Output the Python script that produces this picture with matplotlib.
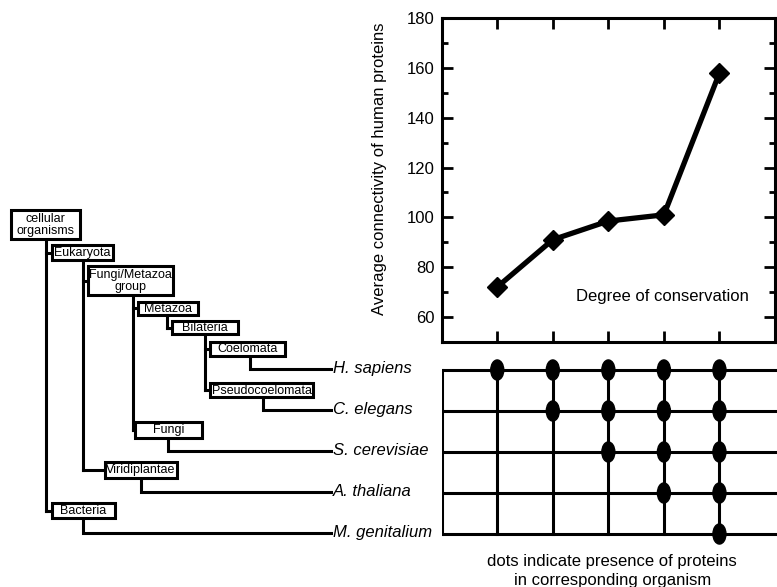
import matplotlib
matplotlib.use("Agg")
import matplotlib.pyplot as plt
from matplotlib.patches import Rectangle, Ellipse

plt.rcParams['font.family'] = ['Liberation Sans', 'DejaVu Sans']

# data
degree = [1, 2, 3, 4, 5]
connectivity = [72, 91, 98.5, 101, 158]
organisms = ["H. sapiens", "C. elegans", "S. cerevisiae", "A. thaliana", "M. genitalium"]
# rows = organisms, columns = degree of conservation
presence = [[1, 1, 1, 1, 1],
            [0, 1, 1, 1, 1],
            [0, 0, 1, 1, 1],
            [0, 0, 0, 1, 1],
            [0, 0, 0, 0, 1]]

taxa = ["cellular\norganisms", "Eukaryota", "Fungi/Metazoa\ngroup", "Metazoa",
        "Bilateria", "Coelomata", "Pseudocoelomata", "Fungi", "Viridiplantae", "Bacteria"]
taxa_parent = [None, 0, 1, 2, 3, 4, 4, 2, 1, 0]
taxa_leaf = [None, None, None, None, None, 0, 1, 2, 3, 4]

# tree layout in pixels: box left, right, top, bottom and x of the branch line
box_x0 = [11.0, 51.7, 88.3, 138.3, 171.7, 210.0, 210.0, 135.0, 105.0, 51.7]
box_x1 = [80.0, 113.3, 173.3, 198.3, 238.3, 285.0, 313.3, 201.7, 176.7, 115.0]
box_y0 = [210.0, 245.0, 266.0, 301.7, 321.0, 341.7, 383.3, 421.7, 461.7, 503.3]
box_y1 = [239.3, 260.0, 295.0, 315.0, 334.3, 356.0, 397.0, 438.3, 478.3, 518.3]
branch_x = [46.0, 83.3, 132.7, 166.7, 205.0, 250.0, 263.3, 168.3, 141.0, 82.7]

W, H = 777, 587
ROW0, ROWSTEP = 370, 41
LEAF_END = 331
LW = 2.2

fig = plt.figure(figsize=(W / 100, H / 100), dpi=100)

# ---- tree (pixel coordinates) ----
axt = fig.add_axes([0, 0, 1, 1])
axt.set_xlim(0, W)
axt.set_ylim(H, 0)
axt.axis('off')

for i, name in enumerate(taxa):
    cy = (box_y0[i] + box_y1[i]) / 2
    kids = [k for k, p in enumerate(taxa_parent) if p == i]
    if kids:
        last = max((box_y0[k] + box_y1[k]) / 2 for k in kids)
        axt.plot([branch_x[i], branch_x[i]], [box_y1[i], last], 'k-', lw=LW, solid_capstyle='projecting')
        for k in kids:
            ky = (box_y0[k] + box_y1[k]) / 2
            axt.plot([branch_x[i], box_x0[k]], [ky, ky], 'k-', lw=LW, solid_capstyle='projecting')
    if taxa_leaf[i] is not None:
        ly = ROW0 + ROWSTEP * taxa_leaf[i] - 1.5
        axt.plot([branch_x[i], branch_x[i], LEAF_END], [box_y1[i], ly, ly], 'k-', lw=LW,
                 solid_joinstyle='miter')
        axt.text(LEAF_END + 2, ly, organisms[taxa_leaf[i]], fontsize=12, style='italic',
                 ha='left', va='center')
    axt.add_patch(Rectangle((box_x0[i], box_y0[i]), box_x1[i] - box_x0[i], box_y1[i] - box_y0[i],
                            facecolor='white', edgecolor='black', lw=2.2, zorder=3))
    axt.text((box_x0[i] + box_x1[i]) / 2, cy + 0.5, name, fontsize=9, ha='center', va='center',
             linespacing=1.0, zorder=4)

# ---- connectivity plot ----
ax = fig.add_axes([441.7 / W, 1 - 341.7 / H, 333.3 / W, 323.4 / H])
ax.plot(degree, connectivity, color='black', lw=3.8, marker='D', ms=10)
ax.set_xlim(0, 6)
ax.set_ylim(50, 180)
ax.set_xticks(degree)
ax.set_xticklabels([])
ax.set_yticks(range(60, 181, 20))
ax.set_yticks(range(50, 181, 10), minor=True)
ax.tick_params(which='both', direction='in', top=True, right=True, width=2, labelsize=12, pad=5)
ax.tick_params(which='major', length=8)
ax.tick_params(which='minor', length=4)
for s in ax.spines.values():
    s.set_linewidth(2.2)
ax.set_ylabel("Average connectivity of human proteins", fontsize=12)
ax.yaxis.set_label_coords(-0.163, 0.535)
ax.text(0.922, 0.141, "Degree of conservation", transform=ax.transAxes, fontsize=12,
        ha='right', va='center')

# ---- presence matrix ----
axm = fig.add_axes([441.7 / W, 1 - (ROW0 + 4.5 * ROWSTEP) / H, 333.3 / W, 5 * ROWSTEP / H])
axm.set_xlim(0, 6)
axm.set_ylim(4.5, -0.5)
axm.axis('off')
nrows = len(organisms)
for r in range(nrows):
    axm.plot([0, 6.05], [r, r], 'k-', lw=LW, clip_on=False, solid_capstyle='butt')
axm.plot([0, 0], [0, nrows - 1], 'k-', lw=LW, solid_capstyle='projecting')
for c in degree:
    axm.plot([c, c], [0, nrows - 1], 'k-', lw=LW)
for r in range(nrows):
    for j, c in enumerate(degree):
        if presence[r][j]:
            axm.add_patch(Ellipse((c, r), 0.234, 0.49, color='black', clip_on=False, zorder=5))
axm.text(3.07, 4.9, "dots indicate presence of proteins\nin corresponding organism",
         fontsize=12, ha='center', va='center', linespacing=1.3)

fig.savefig("out.png", dpi=100)
